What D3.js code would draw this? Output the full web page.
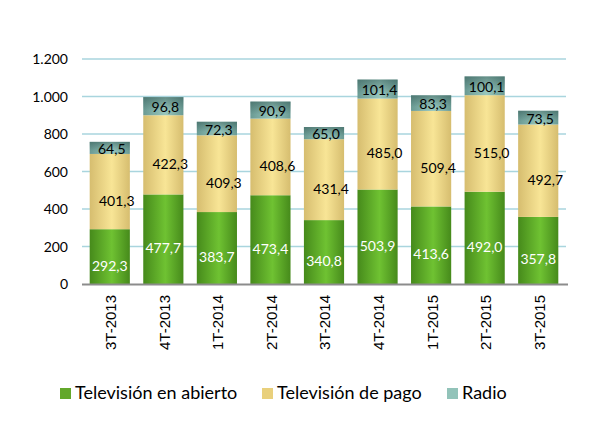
<!DOCTYPE html>
<html>
<head>
<meta charset="utf-8">
<script src="https://cdn.jsdelivr.net/npm/d3@7"></script>
<style>
  html, body { margin: 0; padding: 0; background: #fff; }
  svg { display: block; }
  .tick-y { font-family: Lato, "Noto Sans", sans-serif; font-size: 14px; fill: #000; }
  .tick-x { font-family: "Liberation Sans", Arial, sans-serif; font-size: 15px; fill: #000; }
  .lbl { font-family: Lato, "Noto Sans", sans-serif; font-size: 14px; }
  .legend text { font-family: Lato, "Noto Sans", sans-serif; font-size: 18px; fill: #000; }
</style>
</head>
<body>
<svg id="chart" width="614" height="438"></svg>
<script>
(function () {
  "use strict";

  // datos (millones)
  const periodos = ["3T-2013", "4T-2013", "1T-2014", "2T-2014", "3T-2014", "4T-2014", "1T-2015", "2T-2015", "3T-2015"];
  const tvAbierto = [292.3, 477.7, 383.7, 473.4, 340.8, 503.9, 413.6, 492.0, 357.8];
  const tvPago    = [401.3, 422.3, 409.3, 408.6, 431.4, 485.0, 509.4, 515.0, 492.7];
  const radio     = [64.5, 96.8, 72.3, 90.9, 65.0, 101.4, 83.3, 100.1, 73.5];
  const series    = ["Televisión en abierto", "Televisión de pago", "Radio"];
  const yTicks    = [0, 200, 400, 600, 800, 1000, 1200];

  const fmtNum = d3.formatLocale({ decimal: ",", thousands: ".", grouping: [3] });
  const fmtTick = fmtNum.format(",.0f");
  const fmtLbl  = fmtNum.format(".1f");

  const svg = d3.select("#chart");
  const left = 83, right = 565, top = 59, bottom = 284;

  const x = d3.scaleBand().domain(periodos).range([left, right])
    .paddingInner(0.25).paddingOuter(0.125);
  const y = d3.scaleLinear().domain([0, 1200]).range([bottom, top]);

  // gradientes tipo cilindro
  const defs = svg.append("defs");
  const grads = [
    { id: "g0", edge: "#468a1b", mid: "#6fc232", leg: "#63a82b" },
    { id: "g1", edge: "#d6bd6f", mid: "#f8e596", leg: "#e9d07c" },
    { id: "g2", edge: "#6a9a93", mid: "#98c7bd", leg: "#92c3b9" }
  ];
  grads.forEach(g => {
    const lg = defs.append("linearGradient").attr("id", g.id)
      .attr("x1", 0).attr("x2", 1).attr("y1", 0).attr("y2", 0);
    lg.append("stop").attr("offset", "0%").attr("stop-color", g.edge);
    lg.append("stop").attr("offset", "55%").attr("stop-color", g.mid);
    lg.append("stop").attr("offset", "100%").attr("stop-color", g.edge);
  });
  const shade = defs.append("linearGradient").attr("id", "topShade")
    .attr("x1", 0).attr("x2", 0).attr("y1", 0).attr("y2", 1);
  shade.append("stop").attr("offset", "0%").attr("stop-color", "#2f5450").attr("stop-opacity", 0.5);
  shade.append("stop").attr("offset", "75%").attr("stop-color", "#2f5450").attr("stop-opacity", 0);

  // rejilla
  svg.append("g").selectAll("line")
    .data(yTicks.filter(d => d > 0))
    .join("line")
    .attr("x1", left - 1).attr("x2", right + 1)
    .attr("y1", d => y(d)).attr("y2", d => y(d))
    .attr("stroke", "#a9d5de").attr("stroke-width", 1.5);

  svg.append("g").selectAll("text")
    .data(yTicks)
    .join("text")
    .attr("class", "tick-y")
    .attr("x", 68).attr("y", d => y(d)).attr("dy", "0.36em")
    .attr("text-anchor", "end")
    .text(fmtTick);

  // apilado
  const rows = periodos.map((p, i) => ({ periodo: p, s0: tvAbierto[i], s1: tvPago[i], s2: radio[i] }));
  const stack = d3.stack().keys(["s0", "s1", "s2"])(rows);

  const layers = svg.append("g").selectAll("g")
    .data(stack)
    .join("g")
    .attr("fill", (d, i) => `url(#g${i})`);

  layers.selectAll("rect")
    .data(d => d)
    .join("rect")
    .attr("x", d => x(d.data.periodo))
    .attr("width", x.bandwidth())
    .attr("y", d => y(d[1]))
    .attr("height", d => y(d[0]) - y(d[1]));

  svg.append("g").selectAll("rect")
    .data(stack[2])
    .join("rect")
    .attr("x", d => x(d.data.periodo))
    .attr("width", x.bandwidth())
    .attr("y", d => y(d[1]))
    .attr("height", d => y(d[0]) - y(d[1]))
    .attr("fill", "url(#topShade)");

  // eje
  svg.append("line")
    .attr("x1", left - 1).attr("x2", right + 3)
    .attr("y1", bottom + 0.5).attr("y2", bottom + 0.5)
    .attr("stroke", "#8c8c8c").attr("stroke-width", 2);

  svg.append("g").selectAll("text")
    .data(periodos)
    .join("text")
    .attr("class", "tick-x")
    .attr("transform", d => `translate(${x(d) + x.bandwidth() / 2 + 1},295) rotate(-90)`)
    .attr("text-anchor", "end")
    .attr("dy", "0.36em")
    .text(d => d);

  // etiquetas de datos
  const lblStyle = [
    { fill: "#fff", dx: 0, dy: 9 },
    { fill: "#000", dx: 7, dy: 9 },
    { fill: "#000", dx: 2, dy: 1 }
  ];
  stack.forEach((layer, i) => {
    svg.append("g").selectAll("text")
      .data(layer)
      .join("text")
      .attr("class", "lbl")
      .attr("fill", lblStyle[i].fill)
      .attr("text-anchor", "middle")
      .attr("x", d => x(d.data.periodo) + x.bandwidth() / 2 + lblStyle[i].dx)
      .attr("y", d => (y(d[0]) + y(d[1])) / 2 + lblStyle[i].dy)
      .attr("dy", "0.36em")
      .text(d => fmtLbl(d[1] - d[0]));
  });

  // leyenda
  const legendX = [60, 262, 447];
  const legend = svg.append("g").attr("class", "legend").selectAll("g")
    .data(series)
    .join("g")
    .attr("transform", (d, i) => `translate(${legendX[i]},388)`);
  legend.append("rect")
    .attr("width", 11).attr("height", 11)
    .attr("fill", (d, i) => grads[i].leg);
  legend.append("text")
    .attr("x", 15).attr("y", 11)
    .text(d => d);
})();
</script>
</body>
</html>
